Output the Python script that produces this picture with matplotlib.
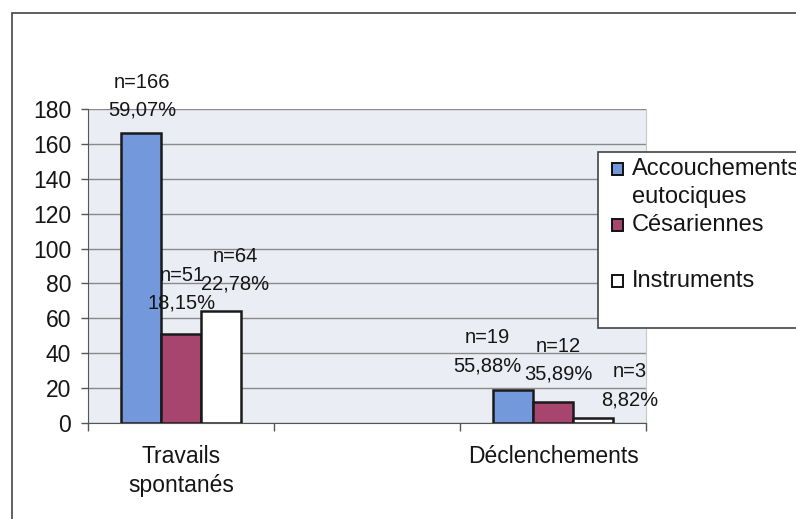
import matplotlib
matplotlib.use("Agg")
import matplotlib.pyplot as plt
from matplotlib.patches import Rectangle
import numpy as np

plt.rcParams['font.family'] = ['Liberation Sans', 'DejaVu Sans']

categories = ["Travails\nspontanés", "", "Déclenchements"]
series_names = ["Accouchements\neutociques", "Césariennes", "Instruments"]
acc = [166, None, 19]
ces = [51, None, 12]
ins = [64, None, 3]
labels_acc = ["n=166\n59,07%", None, "n=19\n55,88%"]
labels_ces = ["n=51\n18,15%", None, "n=12\n35,89%"]
labels_ins = ["n=64\n22,78%", None, "n=3\n8,82%"]
yticks = [0, 20, 40, 60, 80, 100, 120, 140, 160, 180]

colors = ["#7398dc", "#a8456e", "#ffffff"]
# label offsets in pixels (dx, dy) relative to bar top center
offsets = [
    [(1, 37), None, (-26, 38)],
    [(1, 45), None, (5, 42)],
    [(14, 41), None, (37, 32)],
]

W, H = 796, 519
fig = plt.figure(figsize=(W / 100, H / 100), dpi=100)
fs_tick = 16.5
fs_lab = 14.5
fs_leg = 17

def fx(x):
    return x / W

def fy(y):
    return 1 - y / H

ax = fig.add_axes([fx(88), fy(423), fx(646) - fx(88), fy(109) - fy(423)])
ax.set_facecolor("#eaedf3")

x = np.arange(len(categories))
bw = 0.215
all_series = [acc, ces, ins]
all_labels = [labels_acc, labels_ces, labels_ins]
for i, (vals, labs) in enumerate(zip(all_series, all_labels)):
    xs = [xx + (i - 1) * bw for xx, v in zip(x, vals) if v is not None]
    vs = [v for v in vals if v is not None]
    ax.bar(xs, vs, width=bw, color=colors[i], edgecolor="#1a1a1a", linewidth=1.8, zorder=3)
    for j, (v, lab) in enumerate(zip(vals, labs)):
        if v is None:
            continue
        dx, dy = offsets[i][j]
        ax.annotate(lab, xy=(x[j] + (i - 1) * bw, v), xytext=(dx, dy),
                    textcoords="offset pixels", ha="center", va="center",
                    fontsize=fs_lab, linespacing=1.6, color="#151515", zorder=5)

ax.set_xlim(-0.5, 2.5)
ax.set_ylim(0, 180)
ax.set_yticks(yticks)
ax.set_yticklabels([str(t) for t in yticks], fontsize=fs_tick, color="#151515")
ax.yaxis.grid(True, color="#8a8a8a", linewidth=1.0, zorder=1)
ax.set_axisbelow(True)

ax.set_xticks(x)
ax.set_xticklabels(categories, fontsize=fs_tick, color="#151515", linespacing=1.3)
ax.tick_params(axis="x", which="major", length=0, pad=16)
ax.set_xticks([-0.5, 0.5, 1.5, 2.5], minor=True)
ax.tick_params(axis="x", which="minor", length=6, width=1, color="#555555", direction="out")
ax.tick_params(axis="y", length=5, width=1, color="#555555", direction="out", pad=7)

ax.spines["top"].set_visible(False)
ax.spines["right"].set_color("#c8c8c8")
ax.spines["right"].set_linewidth(0.8)
ax.spines["left"].set_color("#555555")
ax.spines["bottom"].set_color("#555555")

# outer frame
fig.patches.append(Rectangle((fx(12), fy(530)), fx(800) - fx(12), fy(13) - fy(530),
                             transform=fig.transFigure, fill=False,
                             edgecolor="#444444", linewidth=1.2))

# legend (manual, clipped by figure edge)
fig.patches.append(Rectangle((fx(598), fy(328)), fx(830) - fx(598), fy(152) - fy(328),
                             transform=fig.transFigure, facecolor="white",
                             edgecolor="#444444", linewidth=1.2, zorder=6))
leg_baselines = [175, 231, 287]
leg_step = 28
for i, (name, yb) in enumerate(zip(series_names, leg_baselines)):
    fig.patches.append(Rectangle((fx(612), fy(yb)), fx(11), 12 / H,
                                 transform=fig.transFigure, facecolor=colors[i],
                                 edgecolor="#111111", linewidth=1.4, zorder=7))
    for k, line in enumerate(name.split("\n")):
        fig.text(fx(632), fy(yb + k * leg_step), line, fontsize=fs_leg,
                 va="baseline", ha="left", color="#151515", zorder=8)

fig.savefig("out.png", dpi=100)
